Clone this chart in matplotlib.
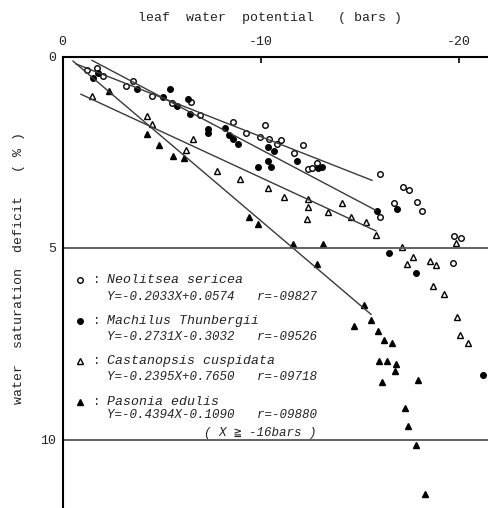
import matplotlib
matplotlib.use("Agg")
import matplotlib.pyplot as plt
from matplotlib.lines import Line2D
import numpy as np

plt.rcParams['font.family'] = ['Liberation Mono', 'DejaVu Sans Mono', 'DejaVu Sans']

# ---- data (leaf water potential in bars, water saturation deficit in %) ----
neo_x = [-1.21, -1.73, -2.05, -3.20, -3.57, -4.49, -5.52, -6.48, -6.93, -8.62, -9.26, -10.22,
         -9.96, -10.43, -10.81, -11.03, -12.12, -11.70, -12.40, -12.83, -12.58, -16.03, -17.20,
         -17.49, -16.75, -17.91, -18.15, -16.05, -19.76, -20.10, -19.69]
neo_y = [0.35, 0.30, 0.51, 0.76, 0.63, 1.02, 1.21, 1.19, 1.53, 1.71, 1.99, 1.79,
         2.09, 2.16, 2.28, 2.18, 2.31, 2.53, 2.95, 2.77, 2.92, 3.08, 3.40,
         3.49, 3.82, 3.79, 4.03, 4.20, 4.68, 4.74, 5.38]

mac_x = [-1.55, -1.80, -3.74, -5.42, -5.08, -5.76, -6.33, -6.43, -7.35, -7.35, -8.22, -8.40,
         -8.62, -8.87, -10.38, -10.69, -10.38, -9.85, -10.51, -11.85, -12.91, -13.08, -15.89,
         -16.90, -16.49, -17.84, -21.24]
mac_y = [0.55, 0.43, 0.86, 0.86, 1.05, 1.28, 1.12, 1.50, 1.88, 2.00, 1.86, 2.05,
         2.16, 2.29, 2.37, 2.46, 2.72, 2.88, 2.89, 2.72, 2.92, 2.89, 4.03,
         3.97, 5.12, 5.64, 8.32]

cas_x = [-1.46, -4.24, -4.49, -6.60, -6.23, -7.79, -8.95, -10.35, -11.19, -12.37, -12.37, -12.32,
         -14.09, -13.41, -14.56, -15.32, -15.81, -17.12, -17.67, -17.37, -18.54, -18.83, -18.72,
         -19.26, -19.91, -20.09, -20.48, -19.84]
cas_y = [1.03, 1.55, 1.76, 2.16, 2.45, 2.99, 3.21, 3.44, 3.66, 3.73, 3.92, 4.24,
         3.83, 4.05, 4.20, 4.31, 4.66, 4.97, 5.24, 5.42, 5.33, 5.44, 5.98,
         6.21, 6.79, 7.28, 7.47, 4.87]

pas_x = [-2.33, -4.26, -4.84, -5.57, -6.14, -9.42, -9.88, -11.62, -13.13, -12.83, -15.20, -15.57,
         -14.70, -15.90, -16.24, -16.62, -15.97, -16.36, -16.82, -16.77, -16.14, -17.96, -17.29,
         -17.42, -17.84, -18.30]
pas_y = [0.90, 2.03, 2.31, 2.60, 2.66, 4.20, 4.37, 4.90, 4.90, 5.43, 6.48, 6.88,
         7.04, 7.16, 7.41, 7.47, 7.95, 7.96, 8.03, 8.21, 8.50, 8.44, 9.19,
         9.64, 10.14, 11.43]

# regression lines: slope, intercept, x range
species = ["Neolitsea sericea", "Machilus Thunbergii", "Castanopsis cuspidata", "Pasonia edulis"]
slopes = [-0.2033, -0.2731, -0.2395, -0.4394]
intercepts = [0.0574, -0.3032, 0.7650, -0.1090]
x_starts = [-0.67, -1.48, -0.92, -0.52]
x_ends = [-15.62, -15.82, -15.82, -15.57]
equations = ["Y=-0.2033X+0.0574   r=-09827",
             "Y=-0.2731X-0.3032   r=-09526",
             "Y=-0.2395X+0.7650   r=-09718",
             "Y=-0.4394X-0.1090   r=-09880"]

x_ticks = [0, -10, -20]
y_ticks = [0, 5, 10]

W, H = 489, 508
fig = plt.figure(figsize=(W / 100, H / 100), dpi=100)
ax_left, ax_top = 62.7, 56.5
ax = fig.add_axes([ax_left / W, 0, 1 - ax_left / W, 1 - ax_top / H])

xr = -(W - ax_left) / 19.8
yb = (H - ax_top) / 38.3
ax.set_xlim(0, xr)
ax.set_ylim(yb, 0)

CS, TS = 4.0, 4.6
mk = dict(linestyle='none', markeredgecolor='black', markeredgewidth=1.0, clip_on=False)
ax.plot(neo_x, neo_y, marker='o', markersize=CS, markerfacecolor='white', **mk)
ax.plot(mac_x, mac_y, marker='o', markersize=CS, markerfacecolor='black', **mk)
ax.plot(cas_x, cas_y, marker='^', markersize=TS, markerfacecolor='white', **mk)
ax.plot(pas_x, pas_y, marker='^', markersize=TS, markerfacecolor='black', **mk)

for s, b, x0, x1 in zip(slopes, intercepts, x_starts, x_ends):
    xs = np.array([x0, x1])
    ax.plot(xs, s * xs + b, color='#3a3a3a', lw=1.0)

for yv in (5, 10):
    ax.axhline(yv, color='#555555', lw=1.3)

for side in ('right', 'bottom'):
    ax.spines[side].set_visible(False)
for side in ('top', 'left'):
    ax.spines[side].set_linewidth(1.5)
    ax.spines[side].set_color('black')

ax.xaxis.tick_top()
ax.set_xticks(x_ticks)
ax.set_xticklabels([str(v) for v in x_ticks])
ax.tick_params(axis='x', direction='in', length=4, width=1.2, pad=6, labelsize=9.5,
               labelcolor='#222222')
ax.set_yticks(y_ticks)
ax.set_yticklabels([str(v) for v in y_ticks])
ax.tick_params(axis='y', length=0, pad=5, labelsize=9.5, labelcolor='#222222')

fig.text(270 / W, 1 - 18 / H, "leaf  water  potential   ( bars )",
         ha='center', va='center', fontsize=9.5, color='#222222')
fig.text(19 / W, 1 - 268 / H, "water  saturation  deficit   ( % )",
         ha='center', va='center', rotation=90, fontsize=9.5, color='#222222')

# legend block
rows = [280, 321, 361, 402]
eq_rows = [297, 337, 377, 415]
styles = [('o', 'white', CS), ('o', 'black', CS), ('^', 'white', TS), ('^', 'black', TS)]
for name, eq, r, er, (m, fc, ms) in zip(species, equations, rows, eq_rows, styles):
    fig.add_artist(Line2D([80 / W], [1 - r / H], marker=m, markersize=ms,
                          markerfacecolor=fc, markeredgecolor='black',
                          markeredgewidth=1.0, linestyle='none'))
    fig.text(97 / W, 1 - r / H, ":", ha='center', va='center', fontsize=9, color='#222222')
    fig.text(107 / W, 1 - r / H, name, ha='left', va='center', fontsize=9.5,
             style='italic', color='#222222')
    fig.text(107 / W, 1 - er / H, eq, ha='left', va='center', fontsize=9,
             style='italic', color='#222222')
fig.text(260 / W, 1 - 433 / H, "( X \u2267 -16bars )", ha='center', va='center',
         fontsize=9, style='italic', color='#222222')

fig.savefig("out.png", dpi=100)
